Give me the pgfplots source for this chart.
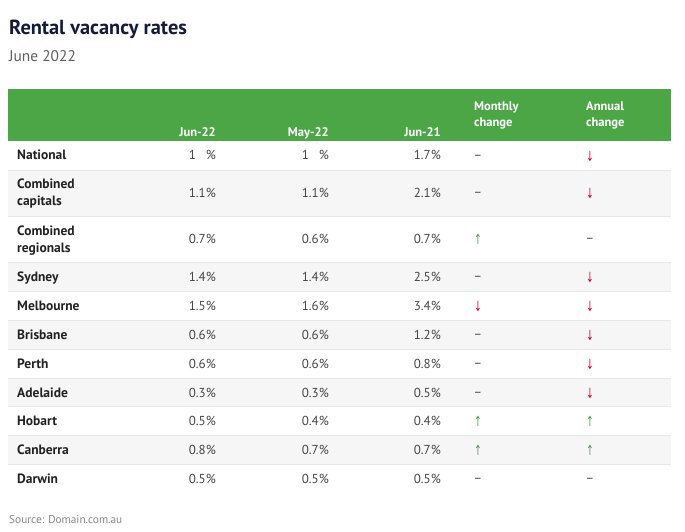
\documentclass[border=0pt]{standalone}
\usepackage{pgfplots}
\pgfplotsset{compat=1.18}
\usepackage{fontspec}
\setmainfont{PT Sans}
\newfontfamily\symfont{DejaVu Sans}
\definecolor{hdrgreen}{RGB}{76,166,70}
\definecolor{titlenavy}{RGB}{18,28,58}
\definecolor{subgray}{RGB}{95,95,95}
\definecolor{labeltext}{RGB}{34,34,34}
\definecolor{valtext}{RGB}{70,70,70}
\definecolor{rowgray}{RGB}{246,246,246}
\definecolor{linegray}{RGB}{232,232,232}
\definecolor{arrred}{RGB}{208,2,27}
\definecolor{arrgreen}{RGB}{60,160,60}
\definecolor{srcgray}{RGB}{135,135,135}
\pgfplotsset{
  txt/.style={only marks, mark=*, mark size=0pt, mark options={draw=none,fill=none},
    nodes near coords, point meta=explicit symbolic, forget plot},
  arr/.style={txt, nodes near coords={\scalebox{0.62}[1]{\pgfplotspointmeta}}},
}
\begin{document}
\begin{tikzpicture}
\begin{axis}[scale only axis, width=685pt, height=532pt,
  xmin=0, xmax=685, ymin=0, ymax=532, y dir=reverse, hide axis, clip=false]
% page background
\addplot[draw=none, fill=white, forget plot] coordinates {(0,0) (685,0) (685,532) (0,532)} -- cycle;
% header band
\addplot[draw=none, fill=hdrgreen, forget plot] coordinates {(8,89) (671,89) (671,141) (8,141)} -- cycle;
% shaded rows
\addplot[draw=none, fill=rowgray, forget plot] coordinates {(8,170) (671,170) (671,216) (8,216)} -- cycle;
\addplot[draw=none, fill=rowgray, forget plot] coordinates {(8,262) (671,262) (671,291) (8,291)} -- cycle;
\addplot[draw=none, fill=rowgray, forget plot] coordinates {(8,320) (671,320) (671,349) (8,349)} -- cycle;
\addplot[draw=none, fill=rowgray, forget plot] coordinates {(8,378) (671,378) (671,406) (8,406)} -- cycle;
\addplot[draw=none, fill=rowgray, forget plot] coordinates {(8,435) (671,435) (671,464) (8,464)} -- cycle;
% separators
\addplot[draw=linegray, line width=0.8pt, forget plot, unbounded coords=jump] coordinates {
(8,170) (671,170) (nan,nan)
(8,216) (671,216) (nan,nan)
(8,262) (671,262) (nan,nan)
(8,291) (671,291) (nan,nan)
(8,320) (671,320) (nan,nan)
(8,349) (671,349) (nan,nan)
(8,378) (671,378) (nan,nan)
(8,406) (671,406) (nan,nan)
(8,435) (671,435) (nan,nan)
(8,464) (671,464)
};
% title
\addplot[txt, every node near coord/.append style={anchor=base west, inner sep=0pt,
  font=\bfseries\fontsize{20.4}{24}\selectfont, text=titlenavy}]
  table[x=x, y=y, meta=t, col sep=comma] {
x,y,t
9,35,Rental vacancy rates
};
\addplot[txt, every node near coord/.append style={anchor=base west, inner sep=0pt,
  font=\fontsize{15.4}{18}\selectfont, text=subgray}]
  table[x=x, y=y, meta=t, col sep=comma] {
x,y,t
9,62,June 2022
};
% header right-aligned
\addplot[txt, every node near coord/.append style={anchor=base east, inner sep=0pt,
  font=\bfseries\fontsize{12.5}{15}\selectfont, text=white}]
  table[x=x, y=y, meta=t, col sep=comma] {
x,y,t
216,136,Jun-22
329,136,May-22
441,136,Jun-21
};
% header left-aligned
\addplot[txt, every node near coord/.append style={anchor=base west, inner sep=0pt,
  font=\bfseries\fontsize{12.5}{15}\selectfont, text=white}]
  table[x=x, y=y, meta=t, col sep=comma] {
x,y,t
474,111,Monthly
474,127,change
586,111,Annual
586,127,change
};
% row labels
\addplot[txt, every node near coord/.append style={anchor=base west, inner sep=0pt,
  font=\bfseries\fontsize{13.5}{16}\selectfont, text=labeltext}]
  table[x=x, y=y, meta=t, col sep=comma] {
x,y,t
17,160,National
17,188,Combined
17,205,capitals
17,235,Combined
17,252,regionals
17,281,Sydney
17,310,Melbourne
17,339,Brisbane
17,368,Perth
17,397,Adelaide
17,425,Hobart
17,454,Canberra
17,483,Darwin
};
% values Jun-22
\addplot[txt, every node near coord/.append style={anchor=base east, inner sep=0pt,
  font=\fontsize{13}{15}\selectfont, text=valtext}]
  table[x=x, y=y, meta=t, col sep=comma] {
x,y,t
216,160,1\phantom{.0}\%
216,197,1.1\%
216,243,0.7\%
216,281,1.4\%
216,310,1.5\%
216,339,0.6\%
216,368,0.6\%
216,397,0.3\%
216,425,0.5\%
216,454,0.8\%
216,483,0.5\%
};
% values May-22
\addplot[txt, every node near coord/.append style={anchor=base east, inner sep=0pt,
  font=\fontsize{13}{15}\selectfont, text=valtext}]
  table[x=x, y=y, meta=t, col sep=comma] {
x,y,t
329,160,1\phantom{.0}\%
329,197,1.1\%
329,243,0.6\%
329,281,1.4\%
329,310,1.6\%
329,339,0.6\%
329,368,0.6\%
329,397,0.3\%
329,425,0.4\%
329,454,0.7\%
329,483,0.5\%
};
% values Jun-21
\addplot[txt, every node near coord/.append style={anchor=base east, inner sep=0pt,
  font=\fontsize{13}{15}\selectfont, text=valtext}]
  table[x=x, y=y, meta=t, col sep=comma] {
x,y,t
441,160,1.7\%
441,197,2.1\%
441,243,0.7\%
441,281,2.5\%
441,310,3.4\%
441,339,1.2\%
441,368,0.8\%
441,397,0.5\%
441,425,0.4\%
441,454,0.7\%
441,483,0.5\%
};
% dashes
\addplot[txt, every node near coord/.append style={anchor=base, inner sep=0pt,
  font=\fontsize{13}{15}\selectfont, text=valtext}]
  table[x=x, y=y, meta=t, col sep=comma] {
x,y,t
478,159,–
478,196,–
590,242,–
478,280,–
478,338,–
478,367,–
478,396,–
478,482,–
590,482,–
};
% red arrows
\addplot[arr, every node near coord/.append style={anchor=base, inner sep=0pt,
  font=\symfont\fontsize{14}{16}\selectfont, text=arrred}]
  table[x=x, y=y, meta=t, col sep=comma] {
x,y,t
590,161,↓
590,198,↓
590,282,↓
478,311,↓
590,311,↓
590,340,↓
590,369,↓
590,398,↓
};
% green arrows
\addplot[arr, every node near coord/.append style={anchor=base, inner sep=0pt,
  font=\symfont\fontsize{14}{16}\selectfont, text=arrgreen}]
  table[x=x, y=y, meta=t, col sep=comma] {
x,y,t
478,244,↑
478,426,↑
590,426,↑
478,455,↑
590,455,↑
};
% source
\addplot[txt, every node near coord/.append style={anchor=base west, inner sep=0pt,
  font=\fontsize{11.3}{13}\selectfont, text=srcgray}]
  table[x=x, y=y, meta=t, col sep=comma] {
x,y,t
9,523,Source: Domain.com.au
};
\end{axis}
\end{tikzpicture}
\end{document}
